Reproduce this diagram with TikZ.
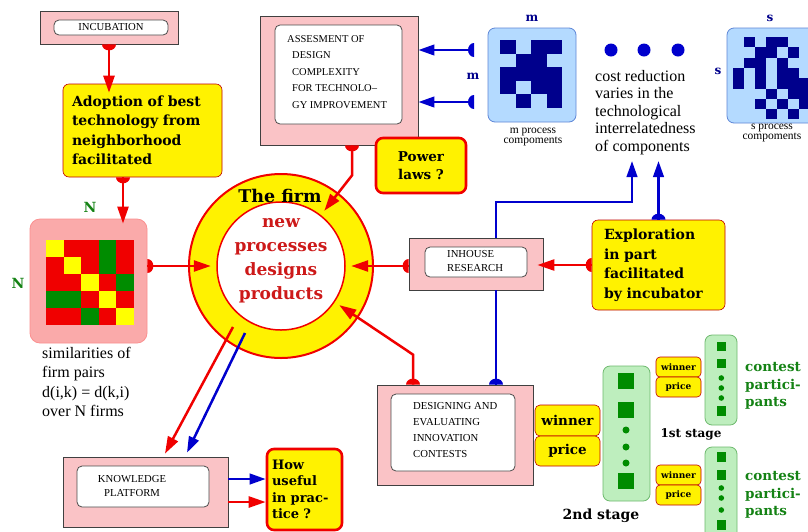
\documentclass[tikz,border=0pt]{standalone}
\usepackage{fontspec}
\setmainfont{Liberation Serif}
\newfontfamily\slab{DejaVu Serif}
\usetikzlibrary{arrows.meta,decorations.markings}

\definecolor{boxpink}{RGB}{250,195,198}
\definecolor{matpink}{RGB}{250,170,170}
\definecolor{hotred}{RGB}{240,0,0}
\definecolor{firmred}{RGB}{205,25,25}
\definecolor{deepblue}{RGB}{0,0,205}
\definecolor{gridnavy}{RGB}{0,0,140}
\definecolor{skyfill}{RGB}{180,218,255}
\definecolor{skyline}{RGB}{95,135,215}
\definecolor{cellY}{RGB}{255,255,0}
\definecolor{cellR}{RGB}{240,0,0}
\definecolor{cellG}{RGB}{0,140,0}
\definecolor{leafdark}{RGB}{20,130,20}
\definecolor{mint}{RGB}{190,238,190}
\definecolor{mintline}{RGB}{110,185,110}

\tikzset{
  pinkframe/.style={draw=black!75, fill=boxpink, line width=0.8pt, inner sep=0pt},
  whitecard/.style={draw=black!70, fill=white, rounded corners=5pt, line width=0.8pt, inner sep=0pt},
  capstext/.style={font=\fontsize{10.7}{15}\selectfont, align=left, inner sep=0pt},
  notebox/.style={draw=hotred!80!black, fill=yellow, rounded corners=6pt, line width=0.6pt, inner sep=0pt},
  askbox/.style={draw=hotred, fill=yellow, rounded corners=7pt, line width=2.6pt, inner sep=0pt},
  heavy/.style={font=\slab\bfseries\fontsize{14}{19.5}\selectfont},
  redline/.style={draw=hotred, line width=2.5pt},
  blueline/.style={draw=deepblue, line width=2.5pt},
  redcon/.style={redline, -{Triangle[length=17pt,width=11pt]}},
  bluecon/.style={blueline, -{Triangle[length=16pt,width=10.5pt]}},
  halfdot/.style={postaction={decorate,decoration={markings,
      mark=at position 0 with {\fill[#1] (0,-7pt) arc[start angle=-90,end angle=90,x radius=6pt,y radius=7pt] -- cycle;}}}},
  greenbar/.style={draw=mintline, fill=mint, rounded corners=7pt, line width=0.8pt, inner sep=0pt},
  greenword/.style={text=leafdark, font=\slab\bfseries\fontsize{13.5}{17.5}\selectfont, align=left, inner sep=0pt}
}

\begin{document}
\begin{tikzpicture}[x=1pt,y=-1pt]
    \fill[white] (0,0) rectangle (808,531);
    \useasboundingbox (0,0) rectangle (808,531);

    % incubation and adoption
    \node[pinkframe, minimum width=138pt, minimum height=33pt] (incubF) at (109,27.5) {};
    \node[whitecard, minimum width=114pt, minimum height=15pt, font=\fontsize{10.7}{11}\selectfont] (incub) at (111,27.5) {INCUBATION};
    \node[notebox, heavy, text width=141pt, inner xsep=9pt, minimum height=93pt, align=left] (adopt) at (142.5,130.5)
      {Adoption of best\\technology from\\neighborhood\\facilitated};

    % similarity matrix of the N firms
    \node[draw=matpink!85!red, fill=matpink, rounded corners=10pt, line width=0.8pt, minimum width=117pt, minimum height=124pt] (Nmat) at (88.5,281) {};
    \foreach \row [count=\j from 0] in {{Y,R,R,G,R},{R,Y,R,G,R},{R,R,Y,R,G},{G,G,R,Y,R},{R,R,G,R,Y}}
      \foreach \c [count=\i from 0] in \row
        \fill[fill=cell\c] (46+17.6*\i,240+17*\j) rectangle ++(17.6,17);
    \node[text=leafdark, font=\slab\bfseries\fontsize{14}{14}\selectfont] (Ntop) at (90,207) {N};
    \node[text=leafdark, font=\slab\bfseries\fontsize{14}{14}\selectfont] (Nleft) at (18,283) {N};
    \node[anchor=north west, align=left, inner sep=0pt, font=\fontsize{16}{19.3}\selectfont] (simtext) at (42,347)
      {similarities of\\firm pairs\\d(i,k) = d(k,i)\\over N firms};

    % the firm
    \node[circle, draw=hotred, fill=yellow, line width=2pt, minimum size=184pt] (firm) at (281,266) {};
    \node[circle, draw=hotred, fill=white, line width=1.5pt, minimum size=128pt] (core) at (281,266) {};
    \node[circle, minimum size=140pt, inner sep=0pt] (hub) at (281,266) {};
    \node[font=\slab\bfseries\fontsize{17.5}{17.5}\selectfont] (firmtitle) at (280,196) {The firm};
    \node[text=firmred, align=center, font=\slab\bfseries\fontsize{17}{24}\selectfont] (firmtext) at (281,261)
      {new\\processes\\designs\\products};

    % design complexity
    \node[pinkframe, minimum width=158pt, minimum height=129pt] (assessF) at (339,80.5) {};
    \node[whitecard, minimum width=127pt, minimum height=99pt] (assessC) at (338.5,74.5) {};
    \node[capstext, font=\fontsize{10.5}{16.5}\selectfont, anchor=north west] (assess) at (287,35)
      {ASSESMENT OF\\\hspace*{5pt}DESIGN\\\hspace*{5pt}COMPLEXITY\\\hspace*{5pt}FOR TECHNOLO--\\\hspace*{5pt}GY IMPROVEMENT};
    \node[askbox, align=center, minimum width=90pt, minimum height=55pt, font=\slab\bfseries\fontsize{13.5}{18}\selectfont] (power) at (421,165.5)
      {Power\\laws ?};

    % m and s process components
    \node[draw=skyline, fill=skyfill, rounded corners=7pt, line width=0.8pt, minimum width=88pt, minimum height=94pt] (mmat) at (532,75) {};
    \foreach \i/\j in {0/0,2/0,3/0,1/1,2/1,0/2,1/2,2/2,3/2,0/3,2/3,3/3,1/4,3/4}
      \fill[gridnavy] (500+15.5*\i,40+13.6*\j) rectangle ++(15.5,13.6);
    \node[text=gridnavy, font=\slab\bfseries\fontsize{12}{12}\selectfont] (mtop) at (532,18) {m};
    \node[text=gridnavy, font=\slab\bfseries\fontsize{12}{12}\selectfont] (mleft) at (473,76) {m};
    \node[align=center, inner sep=0pt, font=\fontsize{11.5}{10}\selectfont] (mcap) at (533,137) {m process\\compoments};

    \node[draw=skyline, fill=skyfill, rounded corners=7pt, line width=0.8pt, minimum width=92pt, minimum height=95pt] (smat) at (773,75.5) {};
    \foreach \i/\j in {1/0,3/0,4/0,2/1,3/1,5/1,1/2,2/2,4/2,0/3,2/3,4/3,5/3,0/4,2/4,4/4,5/4,6/4,3/5,5/5,6/5,2/6,4/6,6/6,3/7,5/7}
      \fill[gridnavy] (733+11*\i,37+10.3*\j) rectangle ++(11,10.3);
    \node[text=gridnavy, font=\slab\bfseries\fontsize{12}{12}\selectfont] (stop) at (770,18) {s};
    \node[text=gridnavy, font=\slab\bfseries\fontsize{12}{12}\selectfont] (sleft) at (718,71) {s};
    \node[align=center, inner sep=0pt, font=\fontsize{11.5}{10}\selectfont] (scap) at (772,133) {s process\\compoments};

    \foreach \x in {611,644,678}
      \fill[deepblue] (\x,50) circle[radius=6.5pt];
    \node[anchor=north west, align=left, inner sep=0pt, font=\fontsize{16}{17.5}\selectfont] (cost) at (595,70)
      {cost reduction\\varies in the\\technological\\interrelatedness\\of components};

    % inhouse research and exploration
    \node[pinkframe, minimum width=134pt, minimum height=52pt] (inhouseF) at (476,264) {};
    \node[whitecard, minimum width=102pt, minimum height=30pt] (inhouseC) at (476,262) {};
    \node[capstext, font=\fontsize{10.7}{14}\selectfont, anchor=west] (inhouse) at (447,261) {INHOUSE\\RESEARCH};
    \node[notebox, heavy, text width=109pt, inner xsep=12pt, minimum height=90pt, align=left] (explore) at (658.5,265)
      {Exploration\\in part\\facilitated\\by incubator};

    % innovation contests
    \node[pinkframe, minimum width=156pt, minimum height=100pt] (designF) at (455,435) {};
    \node[whitecard, minimum width=124pt, minimum height=77pt] (designC) at (453,432.5) {};
    \node[capstext, font=\fontsize{10.7}{15.7}\selectfont, anchor=west] (design) at (413,430)
      {DESIGNING AND\\EVALUATING\\INNOVATION\\CONTESTS};

    \node[notebox, rounded corners=5pt, minimum width=65pt, minimum height=31pt, font=\slab\bfseries\fontsize{13.5}{13.5}\selectfont] (win2) at (567.5,420.5) {winner};
    \node[notebox, rounded corners=5pt, minimum width=65pt, minimum height=30pt, font=\slab\bfseries\fontsize{13.5}{13.5}\selectfont] (price2) at (567.5,451) {price};
    \node[greenbar, minimum width=47pt, minimum height=135pt] (stage2) at (626.5,433.5) {};
    \foreach \y in {381,410,481}
      \fill[cellG] (618,\y-8) rectangle ++(16,16);
    \foreach \y in {430,447,463}
      \fill[cellG] (626,\y) circle[radius=3.5pt];
    \node[font=\slab\bfseries\fontsize{14}{14}\selectfont] (stage2lab) at (601,516) {2nd stage};

    \foreach \y/\nm in {367/a,475/b} {
      \node[notebox, rounded corners=4pt, minimum width=45pt, minimum height=20pt, font=\slab\bfseries\fontsize{9}{9}\selectfont] (win1\nm) at (678.5,\y) {winner};
      \node[notebox, rounded corners=4pt, minimum width=45pt, minimum height=20pt, font=\slab\bfseries\fontsize{9}{9}\selectfont] (price1\nm) at (678.5,\y+20) {price};
    }
    \node[greenbar, minimum width=32pt, minimum height=90pt] (stage1a) at (721,380) {};
    \node[greenbar, minimum width=32pt, minimum height=98pt] (stage1b) at (721,496) {};
    \foreach \y in {346.5,363.5,411,457,475,525}
      \fill[cellG] (716.5,\y-4.75) rectangle ++(9.5,9.5);
    \foreach \y in {378,388,398,488,498,510}
      \fill[cellG] (721.3,\y) circle[radius=2.8pt];
    \node[greenword, anchor=west] (contestA) at (745,386) {contest\\partici-\\pants};
    \node[greenword, anchor=west] (contestB) at (745,495) {contest\\partici-\\pants};
    \node[font=\slab\bfseries\fontsize{12}{12}\selectfont] (stage1lab) at (691,434) {1st stage};

    % knowledge platform
    \node[pinkframe, minimum width=165pt, minimum height=70pt] (knowF) at (145.5,492) {};
    \node[whitecard, minimum width=132pt, minimum height=41pt] (knowC) at (143,486.5) {};
    \node[capstext, font=\fontsize{10.7}{14}\selectfont, align=center] (know) at (132,486) {KNOWLEDGE\\PLATFORM};
    \node[askbox, text width=65pt, inner xsep=5pt, minimum height=81pt, align=left, font=\slab\bfseries\fontsize{13}{16.5}\selectfont] (how) at (304.5,489.5)
      {How\\useful\\in prac-\\tice ?};

    % connectors
    \coordinate (m1) at (474,50);
    \coordinate (m2) at (474,102);
    \coordinate (bluejoint) at (496,202);
    \coordinate (costA) at (632,161);
    \coordinate (costB) at (659,161);
    \coordinate (outR) at (233,327);
    \coordinate (outB) at (245,333);

    \draw[redcon, halfdot=hotred, shorten >=-9pt] (incubF.south) -- (incubF.south |- adopt.north);
    \draw[redcon, halfdot=hotred, shorten >=-5pt] ([xshift=-19.5pt]adopt.south) -- ([xshift=-19.5pt]adopt.south |- Nmat.north);
    \draw[redcon, halfdot=hotred] (Nmat.east |- hub) -- (hub.west);
    \draw[redcon, halfdot=hotred] ([xshift=13pt]assessF.south) -- ++(0,30) -- (hub);
    \draw[redcon, halfdot=hotred] (inhouseF.west |- hub) -- (hub.east);
    \draw[redcon, halfdot=hotred, shorten >=-6pt] (explore.west) -- (explore.west -| inhouseF.east);
    \draw[redcon, halfdot=hotred] ([xshift=-42pt]designF.north) -- ++(0,-30) -- (hub);

    \draw[bluecon, halfdot=deepblue] (m1) -- (m1 -| assessF.east);
    \draw[bluecon, halfdot=deepblue] (m2) -- (m2 -| assessF.east);
    \draw[blueline, halfdot=deepblue] (designF.north -| bluejoint) -- (inhouseF.south -| bluejoint);
    \draw[bluecon] (inhouseF.north -| bluejoint) -- (bluejoint) -| (costA);
    \draw[bluecon, halfdot=deepblue] (explore.north) -- (explore.north |- costB);

    \draw[redcon] (outR) -- ([xshift=19.5pt,yshift=3pt]knowF.north);
    \draw[bluecon] (outB) -- ([xshift=41.5pt,yshift=4pt]knowF.north);
    \draw[bluecon] ([yshift=13pt]knowF.east) -- ([yshift=13pt]knowF.east -| how.west);
    \draw[redcon] ([yshift=-10pt]knowF.east) -- ([yshift=-10pt]knowF.east -| how.west);
\end{tikzpicture}
\end{document}
